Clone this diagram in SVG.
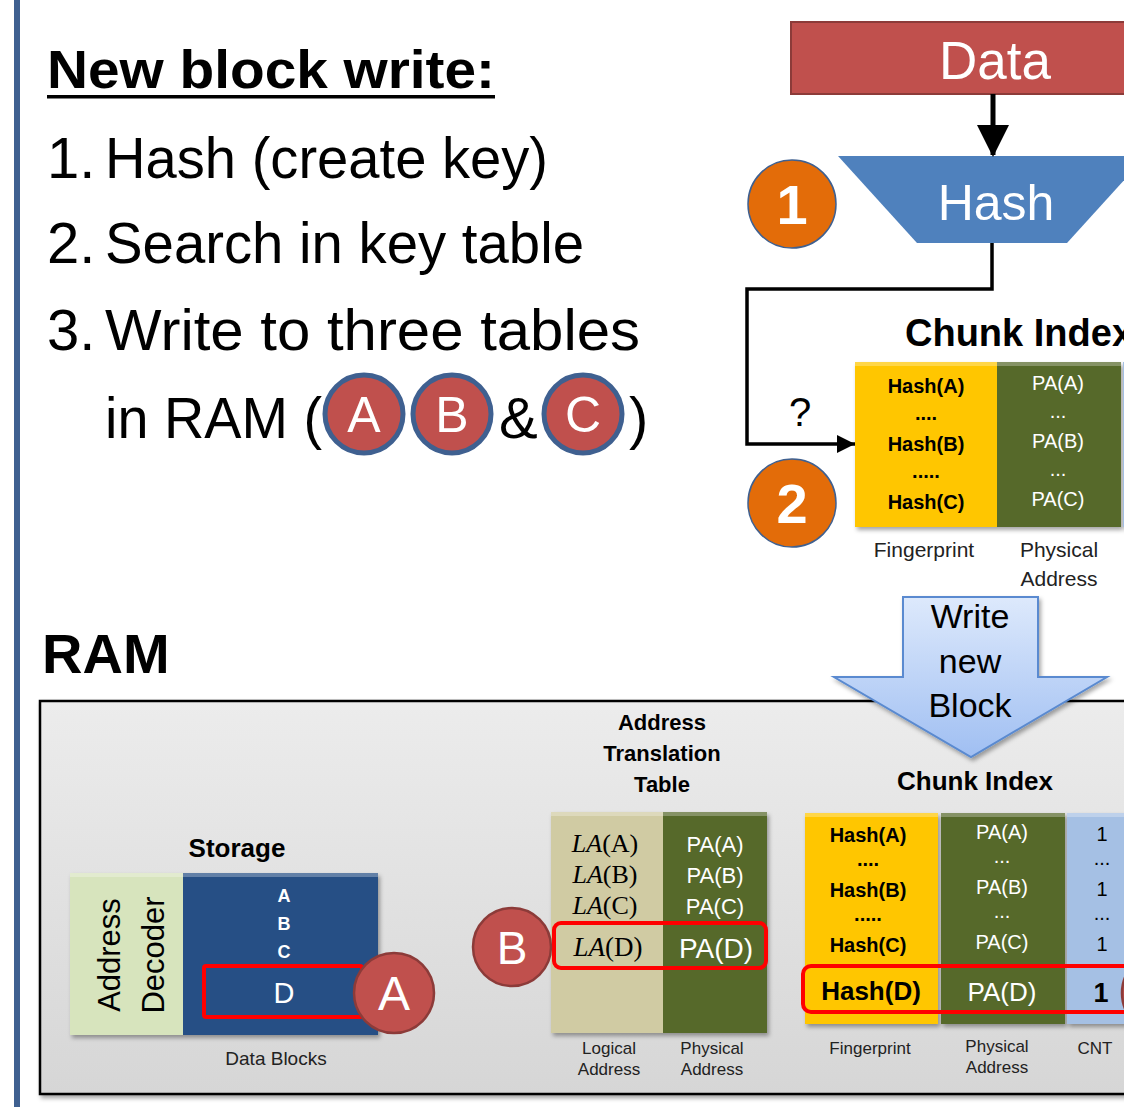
<svg xmlns="http://www.w3.org/2000/svg" width="1124" height="1107" viewBox="0 0 1124 1107">
<defs>
<style>
.sans{font-family:"Liberation Sans",Arial,sans-serif}
.serif{font-family:"Liberation Serif","Times New Roman",serif}
.b{font-weight:bold}
.w{fill:#ffffff}
.k{fill:#000000}
.lbl{font-family:"Liberation Sans",Arial,sans-serif;fill:#222222;text-anchor:middle}
.mid{text-anchor:middle}
.redbox{fill:none;stroke:#ff0000;stroke-width:4}
.redc{fill:#c0504d;stroke:#8c3b39;stroke-width:2.5}
.bluec{fill:#c0504d;stroke:#3f6090;stroke-width:5}
.orange{fill:#e36c09;stroke:#3f6090;stroke-width:1.5}
.yel{fill:#ffc600}
.grn{fill:#56692b}
.tan{fill:#d0cba3}
.lblue{fill:#a5c0e4}
.hl{fill:#ffffff;opacity:0.28}
.conn{fill:none;stroke:#000000}
</style>
<linearGradient id="ramg" x1="0" y1="0" x2="0" y2="1">
<stop offset="0" stop-color="#ececec"/>
<stop offset="1" stop-color="#d6d6d6"/>
</linearGradient>
<linearGradient id="arrg" x1="0" y1="0" x2="0" y2="1">
<stop offset="0" stop-color="#dde9fc"/>
<stop offset="1" stop-color="#a0bff2"/>
</linearGradient>
<filter id="sh" x="-10%" y="-10%" width="130%" height="130%">
<feDropShadow dx="2" dy="3" stdDeviation="2" flood-color="#000000" flood-opacity="0.35"/>
</filter>
<marker id="bigArrow" markerUnits="userSpaceOnUse" markerWidth="32" markerHeight="32" refX="30" refY="16" orient="auto">
<path d="M0,0 L32,16 L0,32 z" fill="#000000"/>
</marker>
<marker id="smArrow" markerUnits="userSpaceOnUse" markerWidth="20" markerHeight="20" refX="18" refY="9" orient="auto">
<path d="M0,0 L18,9 L0,18 z" fill="#000000"/>
</marker>
</defs>

<rect x="0" y="0" width="1124" height="1107" fill="#ffffff"/>
<rect id="sidebar" x="14" y="0" width="6" height="1107" fill="#3f6090"/>

<g id="intro" class="sans">
<text x="47" y="88" class="b" font-size="54" textLength="448" lengthAdjust="spacingAndGlyphs">New block write:</text>
<rect x="47" y="95" width="448" height="3.5" fill="#000000"/>
<text x="47" y="178" font-size="58">1.</text>
<text x="105" y="178" font-size="58" textLength="443" lengthAdjust="spacingAndGlyphs">Hash (create key)</text>
<text x="47" y="263" font-size="58">2.</text>
<text x="105" y="263" font-size="58" textLength="479" lengthAdjust="spacingAndGlyphs">Search in key table</text>
<text x="47" y="350" font-size="58">3.</text>
<text x="105" y="350" font-size="58" textLength="535" lengthAdjust="spacingAndGlyphs">Write to three tables</text>
<text x="105" y="438" font-size="58" textLength="217" lengthAdjust="spacingAndGlyphs">in RAM (</text>
<circle class="bluec" cx="364" cy="414" r="39"/>
<text x="364" y="432" class="w mid" font-size="50">A</text>
<circle class="bluec" cx="452" cy="414" r="39"/>
<text x="452" y="432" class="w mid" font-size="50">B</text>
<text x="499" y="438" font-size="58">&amp;</text>
<circle class="bluec" cx="583" cy="414" r="39"/>
<text x="583" y="432" class="w mid" font-size="50">C</text>
<text x="629" y="438" font-size="58">)</text>
</g>

<g id="data">
<rect x="791" y="22" width="345" height="72" fill="#c0504d" stroke="#8c3b39" stroke-width="2"/>
<text x="995" y="79" class="sans w mid" font-size="53">Data</text>
</g>

<g id="hash">
<polygon points="838,156 1146,156 1067,243 917,243" fill="#4f81bd"/>
<text x="996" y="220" class="sans w mid" font-size="50">Hash</text>
</g>

<g id="step1">
<circle class="orange" cx="792" cy="204" r="44"/>
<text x="792" y="224" class="sans b w mid" font-size="56">1</text>
</g>

<g id="step2">
<circle class="orange" cx="792" cy="503" r="44"/>
<text x="792" y="523" class="sans b w mid" font-size="56">2</text>
</g>

<g id="chunkIndexTop" class="sans">
<text x="905" y="346" class="b" font-size="38">Chunk Index</text>
<g filter="url(#sh)">
<rect class="yel" x="855" y="362" width="142" height="165"/>
<rect class="grn" x="997" y="362" width="124" height="165"/>
<rect class="lblue" x="1123" y="362" width="10" height="165"/>
</g>
<rect class="hl" x="855" y="362" width="142" height="4"/>
<rect class="hl" x="997" y="362" width="124" height="4"/>
<text x="926" y="393" class="b mid" font-size="20">Hash(A)</text>
<text x="926" y="420" class="b mid" font-size="20">....</text>
<text x="926" y="451" class="b mid" font-size="20">Hash(B)</text>
<text x="926" y="478" class="b mid" font-size="20">.....</text>
<text x="926" y="509" class="b mid" font-size="20">Hash(C)</text>
<text x="1058" y="390" class="w mid" font-size="20">PA(A)</text>
<text x="1058" y="418" class="w mid" font-size="20">...</text>
<text x="1058" y="448" class="w mid" font-size="20">PA(B)</text>
<text x="1058" y="476" class="w mid" font-size="20">...</text>
<text x="1058" y="506" class="w mid" font-size="20">PA(C)</text>
<text x="924" y="557" class="lbl" font-size="21">Fingerprint</text>
<text x="1059" y="557" class="lbl" font-size="21">Physical</text>
<text x="1059" y="586" class="lbl" font-size="21">Address</text>
</g>

<g id="connectors">
<line class="conn" x1="993" y1="94" x2="993" y2="155" stroke-width="5" marker-end="url(#bigArrow)"/>
<path class="conn" d="M992,243 V289 H747 V444 H855" stroke-width="3.5" marker-end="url(#smArrow)"/>
<text x="800" y="426" class="sans mid" font-size="40">?</text>
</g>

<g id="ramLabel">
<text x="42" y="673" class="sans b" font-size="56">RAM</text>
</g>

<g id="ram">
<rect x="40" y="701" width="1110" height="393" fill="url(#ramg)" stroke="#000000" stroke-width="2.5" filter="url(#sh)"/>
</g>

<g id="storage" class="sans">
<text x="237" y="857" class="b mid" font-size="26">Storage</text>
<g filter="url(#sh)">
<rect x="70" y="873" width="113" height="162" fill="#d7e4bd"/>
<rect x="183" y="873" width="195" height="162" fill="#264f85"/>
</g>
<rect class="hl" x="70" y="873" width="113" height="4"/>
<rect class="hl" x="183" y="873" width="195" height="4" opacity="0.18"/>
<text transform="translate(120,955) rotate(-90)" class="mid" font-size="31">Address</text>
<text transform="translate(164,955) rotate(-90)" class="mid" font-size="31">Decoder</text>
<text x="284" y="902" class="b w mid" font-size="18">A</text>
<text x="284" y="930" class="b w mid" font-size="18">B</text>
<text x="284" y="958" class="b w mid" font-size="18">C</text>
<text x="284" y="1003" class="w mid" font-size="29">D</text>
<rect class="redbox" x="204" y="966" width="158" height="51" rx="2"/>
<text x="276" y="1065" class="lbl" font-size="19">Data Blocks</text>
</g>

<g id="markA">
<circle class="redc" cx="394" cy="993" r="40"/>
<text x="394" y="1010" class="sans w mid" font-size="48">A</text>
</g>

<g id="att" class="sans">
<text x="662" y="730" class="b mid" font-size="22">Address</text>
<text x="662" y="761" class="b mid" font-size="22">Translation</text>
<text x="662" y="792" class="b mid" font-size="22">Table</text>
<g filter="url(#sh)">
<rect class="tan" x="551" y="812" width="112" height="221"/>
<rect class="grn" x="663" y="812" width="104" height="221"/>
</g>
<rect class="hl" x="551" y="812" width="112" height="4"/>
<rect class="hl" x="663" y="812" width="104" height="4"/>
<text x="605" y="852" class="serif mid" font-size="26"><tspan font-style="italic">LA</tspan>(A)</text>
<text x="605" y="883" class="serif mid" font-size="26"><tspan font-style="italic">LA</tspan>(B)</text>
<text x="605" y="914" class="serif mid" font-size="26"><tspan font-style="italic">LA</tspan>(C)</text>
<text x="608" y="956" class="serif mid" font-size="27"><tspan font-style="italic">LA</tspan>(D)</text>
<text x="715" y="852" class="w mid" font-size="22">PA(A)</text>
<text x="715" y="883" class="w mid" font-size="22">PA(B)</text>
<text x="715" y="914" class="w mid" font-size="22">PA(C)</text>
<text x="716" y="958" class="w mid" font-size="28">PA(D)</text>
<rect class="redbox" x="554" y="923" width="212" height="45" rx="7"/>
<text x="609" y="1054" class="lbl" font-size="17">Logical</text>
<text x="609" y="1075" class="lbl" font-size="17">Address</text>
<text x="712" y="1054" class="lbl" font-size="17">Physical</text>
<text x="712" y="1075" class="lbl" font-size="17">Address</text>
</g>

<g id="markB">
<circle class="redc" cx="512" cy="947" r="39"/>
<text x="512" y="964" class="sans w mid" font-size="46">B</text>
</g>

<g id="chunkIndexRam" class="sans">
<text x="975" y="790" class="b mid" font-size="26">Chunk Index</text>
<g filter="url(#sh)">
<rect class="yel" x="805" y="813" width="133" height="211"/>
<rect class="grn" x="941" y="813" width="124" height="211"/>
<rect class="lblue" x="1067" y="813" width="70" height="211"/>
</g>
<rect class="hl" x="805" y="813" width="133" height="4"/>
<rect class="hl" x="941" y="813" width="124" height="4"/>
<rect class="hl" x="1067" y="813" width="70" height="4"/>
<text x="868" y="842" class="b mid" font-size="20">Hash(A)</text>
<text x="868" y="866" class="b mid" font-size="20">....</text>
<text x="868" y="897" class="b mid" font-size="20">Hash(B)</text>
<text x="868" y="921" class="b mid" font-size="20">.....</text>
<text x="868" y="952" class="b mid" font-size="20">Hash(C)</text>
<text x="871" y="1000" class="b mid" font-size="26">Hash(D)</text>
<text x="1002" y="839" class="w mid" font-size="20">PA(A)</text>
<text x="1002" y="863" class="w mid" font-size="20">...</text>
<text x="1002" y="894" class="w mid" font-size="20">PA(B)</text>
<text x="1002" y="918" class="w mid" font-size="20">...</text>
<text x="1002" y="949" class="w mid" font-size="20">PA(C)</text>
<text x="1002" y="1001" class="w mid" font-size="26">PA(D)</text>
<text x="1102" y="841" class="mid" font-size="20">1</text>
<text x="1102" y="865" class="mid" font-size="20">...</text>
<text x="1102" y="896" class="mid" font-size="20">1</text>
<text x="1102" y="920" class="mid" font-size="20">...</text>
<text x="1102" y="951" class="mid" font-size="20">1</text>
<text x="1101" y="1002" class="b mid" font-size="27">1</text>
<rect class="redbox" x="803" y="966" width="340" height="46" rx="8"/>
<text x="870" y="1054" class="lbl" font-size="17">Fingerprint</text>
<text x="997" y="1052" class="lbl" font-size="17">Physical</text>
<text x="997" y="1073" class="lbl" font-size="17">Address</text>
<text x="1095" y="1054" class="lbl" font-size="17">CNT</text>
</g>

<g id="markC">
<circle class="redc" cx="1162" cy="993" r="40"/>
</g>

<g id="writeNewBlock">
<polygon points="903,597 1038,597 1038,677 1107,677 971,757 834,677 903,677" fill="url(#arrg)" stroke="#5a8ad0" stroke-width="2" filter="url(#sh)"/>
<text x="970" y="628" class="sans mid" font-size="34">Write</text>
<text x="970" y="673" class="sans mid" font-size="34">new</text>
<text x="970" y="717" class="sans mid" font-size="34">Block</text>
</g>
</svg>
